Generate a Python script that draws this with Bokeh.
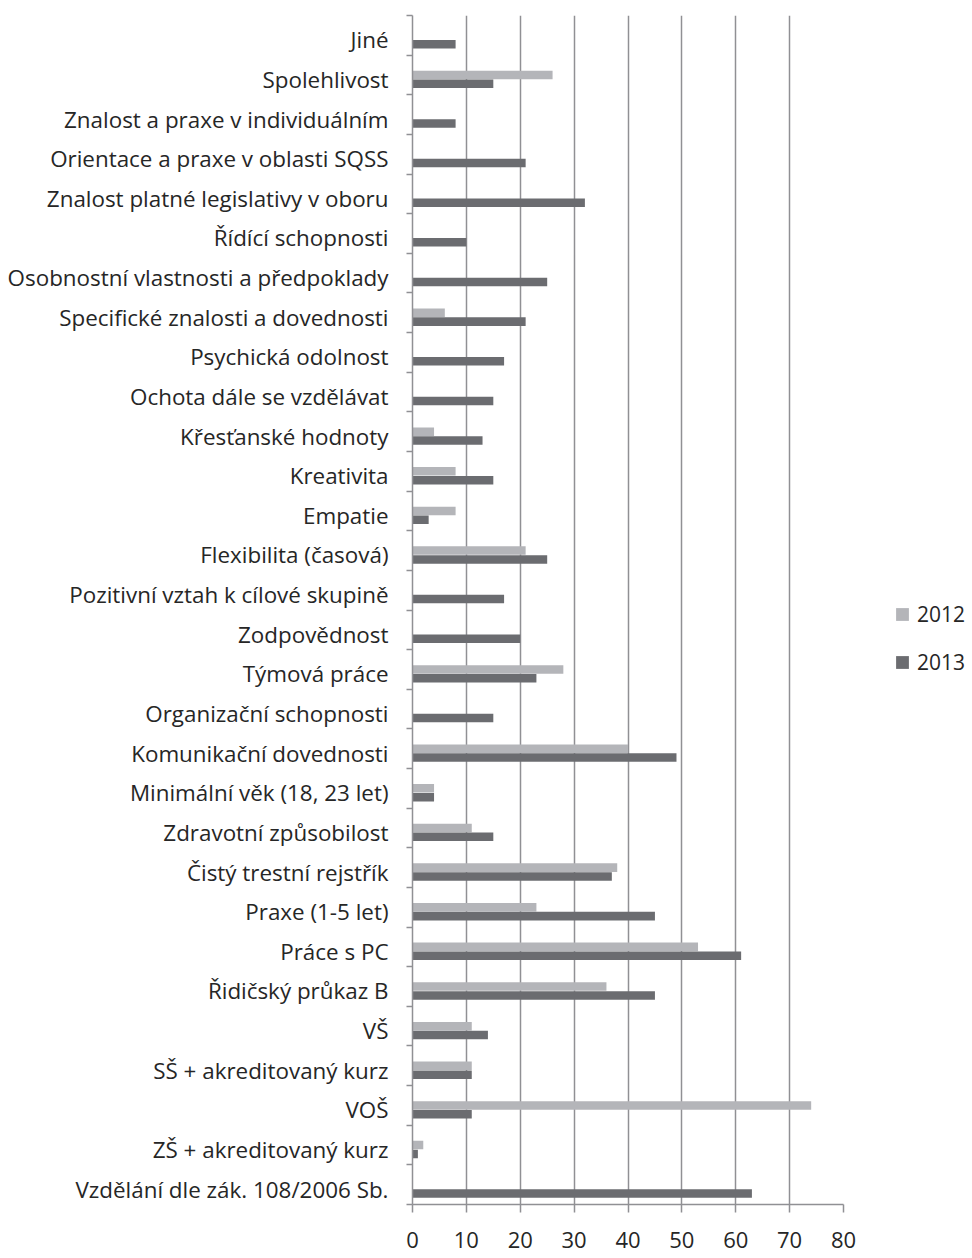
from bokeh.plotting import figure
from bokeh.models import FixedTicker, Range1d, Legend, LegendItem, ColumnDataSource
from bokeh.transform import dodge
from bokeh.embed import file_html
from bokeh.resources import INLINE

categories = [
    "Vzdělání dle zák. 108/2006 Sb.",
    "ZŠ + akreditovaný kurz",
    "VOŠ",
    "SŠ + akreditovaný kurz",
    "VŠ",
    "Řidičský průkaz B",
    "Práce s PC",
    "Praxe (1-5 let)",
    "Čistý trestní rejstřík",
    "Zdravotní způsobilost",
    "Minimální věk (18, 23 let)",
    "Komunikační dovednosti",
    "Organizační schopnosti",
    "Týmová práce",
    "Zodpovědnost",
    "Pozitivní vztah k cílové skupině",
    "Flexibilita (časová)",
    "Empatie",
    "Kreativita",
    "Křesťanské hodnoty",
    "Ochota dále se vzdělávat",
    "Psychická odolnost",
    "Specifické znalosti a dovednosti",
    "Osobnostní vlastnosti a předpoklady",
    "Řídící schopnosti",
    "Znalost platné legislativy v oboru",
    "Orientace a praxe v oblasti SQSS",
    "Znalost a praxe v individuálním",
    "Spolehlivost",
    "Jiné",
]
v2012 = [0, 2, 74, 11, 11, 36, 53, 23, 38, 11, 4, 40, 0, 28, 0, 0, 21, 8, 8, 4, 0, 0, 6, 0, 0, 0, 0, 0, 26, 0]
v2013 = [63, 1, 11, 11, 14, 45, 61, 45, 37, 15, 4, 49, 15, 23, 20, 17, 25, 3, 15, 13, 15, 17, 21, 25, 10, 32, 21, 8, 15, 8]
series = ["2012", "2013"]
x_ticks = [0, 10, 20, 30, 40, 50, 60, 70, 80]

FONT = "Open Sans"
TXT = "#262626"
GRID = "#909094"
C12 = "#b4b5b9"
C13 = "#6b6c70"
SHIFT = 0.112
BAR_H = 0.215

n = len(categories)
idx = list(range(n))
src = ColumnDataSource(dict(y=idx, v12=v2012, v13=v2013))

p = figure(frame_width=431, frame_height=1189, x_range=Range1d(0, 80),
           y_range=Range1d(-0.5 + SHIFT, n - 0.5 + SHIFT),
           output_backend="svg", toolbar_location=None,
           min_border_left=412, min_border_right=110,
           min_border_top=15, min_border_bottom=50)
p.outline_line_color = None
p.background_fill_color = "white"

r12 = p.hbar(y=dodge("y", SHIFT), left=0, right="v12", height=BAR_H, source=src,
             fill_color=C12, line_color=None)
r13 = p.hbar(y=dodge("y", -SHIFT), left=0, right="v13", height=BAR_H, source=src,
             fill_color=C13, line_color=None)

# x axis
p.xaxis.ticker = FixedTicker(ticks=x_ticks)
p.xaxis.axis_line_color = GRID
p.xaxis.axis_line_width = 1.5
p.xaxis.major_tick_line_color = GRID
p.xaxis.major_tick_line_width = 1.5
p.xaxis.major_tick_out = 8
p.xaxis.major_tick_in = 0
p.xaxis.minor_tick_line_color = None
p.xaxis.major_label_standoff = 19
p.xaxis.major_label_text_font = FONT
p.xaxis.major_label_text_font_size = "22px"
p.xaxis.major_label_text_color = TXT

# y axis
p.yaxis.ticker = FixedTicker(ticks=idx, minor_ticks=[i - 0.5 + SHIFT for i in range(n + 1)])
p.yaxis.major_label_overrides = {i: c for i, c in enumerate(categories)}
p.yaxis.axis_line_color = GRID
p.yaxis.axis_line_width = 1.5
p.yaxis.major_tick_line_color = None
p.yaxis.major_tick_out = 0
p.yaxis.major_tick_in = 0
p.yaxis.minor_tick_line_color = GRID
p.yaxis.minor_tick_line_width = 1.5
p.yaxis.minor_tick_out = 6
p.yaxis.minor_tick_in = 0
p.yaxis.major_label_standoff = 18
p.yaxis.major_label_text_font = FONT
p.yaxis.major_label_text_font_size = "22.4px"
p.yaxis.major_label_text_color = TXT

p.xgrid.ticker = FixedTicker(ticks=x_ticks)
p.xgrid.grid_line_color = GRID
p.xgrid.grid_line_width = 1.5
p.ygrid.grid_line_color = None

legend = Legend(items=[LegendItem(label=series[0], renderers=[r12]),
                       LegendItem(label=series[1], renderers=[r13])],
                location=(51, 528), orientation="vertical",
                border_line_color=None, background_fill_alpha=0,
                padding=0, margin=0, spacing=20,
                glyph_width=16, glyph_height=16, label_standoff=7,
                label_text_font=FONT, label_text_font_size="21px",
                label_text_color=TXT, label_height=22)
p.add_layout(legend, "right")

open("out.html", "w").write(file_html(p, INLINE))
